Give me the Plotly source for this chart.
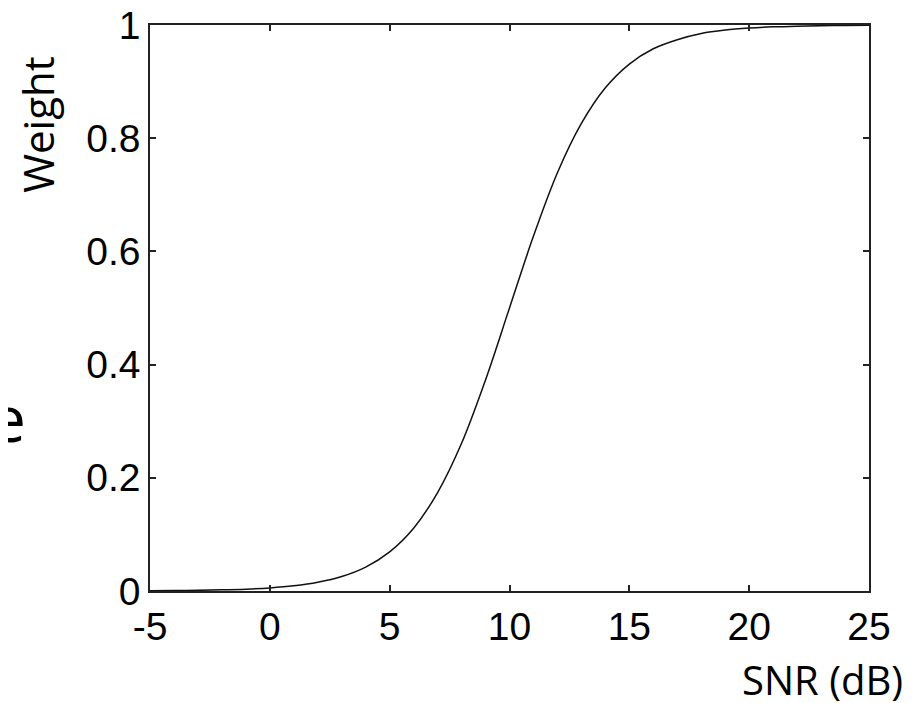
import plotly.graph_objects as go

snr_db = [-5, -4, -3, -2, -1, 0, 1, 2, 3, 4, 5, 6, 7, 8, 9, 10, 11, 12, 13, 14, 15,
          16, 17, 18, 19, 20, 21, 22, 23, 24, 25]
weight = [0.0004, 0.0007, 0.0012, 0.002, 0.0033, 0.0055, 0.0092, 0.0154, 0.0256, 0.0423,
          0.0692, 0.111, 0.174, 0.261, 0.373, 0.5, 0.627, 0.739, 0.826, 0.889, 0.931,
          0.958, 0.974, 0.985, 0.991, 0.9945, 0.9967, 0.998, 0.9988, 0.9993, 0.9996]
x_ticks = [-5, 0, 5, 10, 15, 20, 25]
y_ticks = [0, 0.2, 0.4, 0.6, 0.8, 1]
y_tick_text = ["0", "0.2", "0.4", "0.6", "0.8", "1"]

fig = go.Figure()
fig.add_trace(go.Scatter(x=snr_db, y=weight, mode="lines",
                         line=dict(color="#111", width=1.5, shape="spline"),
                         showlegend=False))

axis_common = dict(showgrid=False, zeroline=False, showline=True, mirror="ticks",
                   linecolor="#222", linewidth=1.5, ticks="inside", ticklen=6,
                   tickcolor="#222", tickwidth=1.5, automargin=False,
                   ticklabeloverflow="allow",
                   tickfont=dict(family="Liberation Sans, Arial", size=39, color="black"))

fig.update_xaxes(range=[-5, 25], tickvals=x_ticks, ticktext=[str(v) for v in x_ticks],
                 **axis_common)
fig.update_yaxes(range=[0, 1], tickvals=y_ticks, ticktext=y_tick_text, **axis_common)

fig.update_layout(
    width=913, height=695,
    margin=dict(l=142, r=52, t=17, b=112),
    paper_bgcolor="white", plot_bgcolor="white",
    annotations=[
        dict(text="Weight", xref="paper", yref="paper", x=-0.1575, y=0.825,
             textangle=-90, showarrow=False,
             font=dict(family="Open Sans, Noto Sans", size=42, color="black"),
             xanchor="center", yanchor="middle"),
        dict(text="SNR (dB)", xref="paper", yref="paper", x=0.936, y=-0.157,
             showarrow=False, font=dict(family="Open Sans, Noto Sans", size=40, color="black"),
             xanchor="center", yanchor="middle"),
        dict(text="e", xref="paper", yref="paper", x=-0.170, y=0.306,
             showarrow=False, font=dict(family="Open Sans, Noto Sans", size=64, color="black"),
             xanchor="right", yanchor="middle"),
    ],
)

fig.write_html("out.html")
